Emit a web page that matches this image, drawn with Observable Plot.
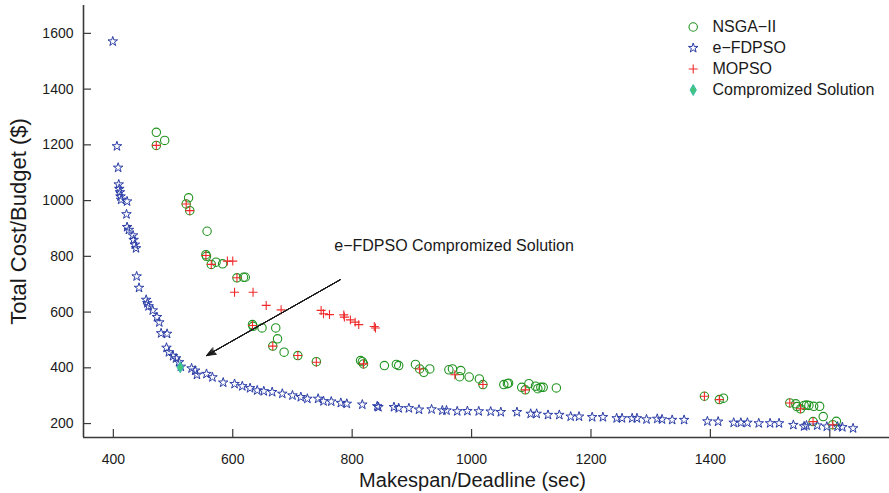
<!DOCTYPE html>
<html><head><meta charset="utf-8">
<script src="https://cdn.jsdelivr.net/npm/d3@7"></script>
<script src="https://cdn.jsdelivr.net/npm/@observablehq/plot@0.6"></script>
<style>body{margin:0;background:#fff} svg{display:block}</style>
</head><body><div id="chart"></div>
<script>
const xTicks = [400, 600, 800, 1000, 1200, 1400, 1600];
const yTicks = [200, 400, 600, 800, 1000, 1200, 1400, 1600];
const xLabel = "Makespan/Deadline (sec)";
const yLabel = "Total Cost/Budget ($)";
const seriesNames = ["NSGA\u2212II", "e\u2212FDPSO", "MOPSO", "Compromized Solution"];
const annotationText = "e\u2212FDPSO Compromized Solution";
const annotationArrow = [{x1: 780, y1: 716, x2: 556, y2: 444}];
const annotationLabel = [{x: 770, y: 836}];

const nsga = [
  [472,1245],[486,1216],[472,1198],[526,1010],[522,988],[528,964],[557,890],[555,806],[556,800],
  [564,771],[572,779],[583,773],[607,723],[618,725],[621,725],[633,555],[634,549],[649,543],
  [672,543],[675,504],[667,478],[686,456],[709,444],[740,422],[814,426],[817,422],[819,414],
  [854,408],[874,412],[878,408],[906,412],[913,396],[920,384],[930,396],[962,393],[968,396],
  [982,390],[980,368],[996,367],[1013,360],[1019,340],[1054,340],[1060,343],[1062,345],
  [1084,330],[1090,321],[1096,343],[1107,334],[1111,325],[1116,330],[1120,330],[1142,328],
  [1390,298],[1415,286],[1422,291],[1533,274],[1543,271],[1545,261],[1551,253],[1557,265],
  [1561,267],[1565,265],[1573,262],[1583,262],[1589,225],[1572,207],[1605,196],[1611,208]
];
const efdpso = [
  [399,1571],[406,1195],[408,1118],[409,1058],[410,1042],[411,1030],[412,1015],[413,1003],
  [423,997],[422,951],[423,905],[426,895],[433,875],[434,859],[436,842],[438,829],[439,728],
  [443,687],[455,644],[457,632],[459,621],[466,606],[473,582],[477,563],[480,524],[490,522],
  [489,472],[493,456],[500,442],[505,434],[510,420],[513,404],[531,398],[537,390],[540,375],
  [556,378],[566,366],[584,347],[603,342],[616,334],[629,327],[641,319],[652,316],[666,313],
  [683,307],[700,301],[714,295],[725,289],[743,289],[752,280],[765,279],[781,274],[791,271],
  [817,268],[842,262],[844,259],[870,259],[878,255],[895,255],[912,250],[933,251],[951,247],
  [958,247],[976,244],[993,245],[1012,244],[1032,243],[1049,241],[1076,241],[1099,235],
  [1109,235],[1128,231],[1147,231],[1166,225],[1180,225],[1202,223],[1220,223],[1243,219],
  [1252,219],[1269,219],[1277,219],[1293,215],[1311,217],[1319,215],[1336,213],[1356,213],
  [1395,208],[1413,207],[1439,203],[1451,203],[1462,203],[1481,201],[1500,201],[1515,201],
  [1539,195],[1557,190],[1561,193],[1579,193],[1595,189],[1613,189],[1621,187],[1639,183]
];
const mopso = [
  [472,1198],[522,988],[528,964],[555,803],[564,771],[591,783],[600,783],[607,723],[603,671],
  [634,671],[656,624],[681,608],[633,552],[667,478],[709,444],[740,420],[748,606],[752,594],
  [762,591],[786,590],[787,582],[797,572],[805,564],[811,555],[837,548],[839,543],[819,414],
  [913,396],[972,375],[1019,340],[1090,321],[1390,298],[1415,286],[1533,274],[1551,253],
  [1572,207],[1605,196]
];
const compromise = [[512,402]];

const C_GREEN = "#1f931f", C_BLUE = "#2a3ca6", C_RED = "#f02a2a", C_COMP_FILL = "#45c47a", C_COMP_STROKE = "#36bdb0";
const AXIS = "#3a3a3a";
const font = "'Liberation Sans', Arial, Helvetica, sans-serif";

const styles = [
  {symbol: "circle", r: 4.2, fill: "none", stroke: C_GREEN, strokeWidth: 1.1},
  {symbol: "star", r: 3.0, fill: "none", stroke: C_BLUE, strokeWidth: 1},
  {symbol: "plus", r: 3.0, fill: "none", stroke: C_RED, strokeWidth: 1.1},
  {symbol: "diamond", r: 3.3, fill: C_COMP_FILL, stroke: C_COMP_STROKE, strokeWidth: 1}
];

const W = 889, H = 493, ML = 83, MR = 0, MT = 5, MB = 56;
const innerW = W - ML - MR, innerH = H - MT - MB;
const TICK = 8;

const legendMarks = seriesNames.flatMap((name, i) => [
  Plot.dot([name], {frameAnchor: "top-right", dx: -196.3, dy: 21.5 + i * 21, ...styles[i]}),
  Plot.text([name], {frameAnchor: "top-right", dx: -177, dy: 21.5 + i * 21, text: d => d,
    textAnchor: "start", lineAnchor: "middle", fontSize: 16, fill: "#1a1a1a"})
]);

const arrowMarks = [[44, 15], [34, 14], [24, 13.3], [14, 12.8], [6, 12.5]].map(([a, l]) =>
  Plot.arrow(annotationArrow, {x1: "x1", y1: "y1", x2: "x2", y2: "y2", headAngle: a, headLength: l,
    stroke: "#1a1a1a", strokeWidth: 1})
);

const chart = Plot.plot({
  width: W, height: H,
  marginLeft: ML, marginRight: MR, marginTop: MT, marginBottom: MB,
  style: {fontFamily: font, background: "white", color: "#1a1a1a"},
  x: {domain: [350, 1700]},
  y: {domain: [150, 1700]},
  marks: [
    Plot.axisX({ticks: xTicks, tickFormat: d3.format("d"), tickSize: 0, tickPadding: 17, fontSize: 14, label: null}),
    Plot.axisY({ticks: yTicks, tickFormat: d3.format("d"), tickSize: 0, tickPadding: 10, fontSize: 14, label: null}),
    Plot.ruleX(xTicks, {insetTop: innerH - TICK, stroke: AXIS, strokeWidth: 1.2}),
    Plot.ruleY(yTicks, {insetRight: innerW - TICK, stroke: AXIS, strokeWidth: 1.2}),
    Plot.ruleY([150], {stroke: AXIS, strokeWidth: 1.6}),
    Plot.ruleX([350], {stroke: AXIS, strokeWidth: 1.6}),
    Plot.dot(nsga, {x: d => d[0], y: d => d[1], ...styles[0]}),
    Plot.dot(efdpso, {x: d => d[0], y: d => d[1], ...styles[1]}),
    Plot.dot(mopso, {x: d => d[0], y: d => d[1], ...styles[2]}),
    Plot.dot(compromise, {x: d => d[0], y: d => d[1], ...styles[3]}),
    ...arrowMarks,
    Plot.text(annotationLabel, {x: "x", y: "y", text: () => annotationText, textAnchor: "start",
      lineAnchor: "middle", fontSize: 16, fill: "#1a1a1a"}),
    Plot.text([xLabel], {frameAnchor: "bottom", dx: -14, dy: 43.5, text: d => d, fontSize: 20,
      textAnchor: "middle", lineAnchor: "middle", fill: "#1a1a1a"}),
    Plot.text([yLabel], {frameAnchor: "left", dx: -65, dy: 0, rotate: -90, text: d => d, fontSize: 22,
      textAnchor: "middle", lineAnchor: "middle", fill: "#1a1a1a"}),
    ...legendMarks
  ]
});
document.getElementById("chart").appendChild(chart);
</script>
</body></html>
